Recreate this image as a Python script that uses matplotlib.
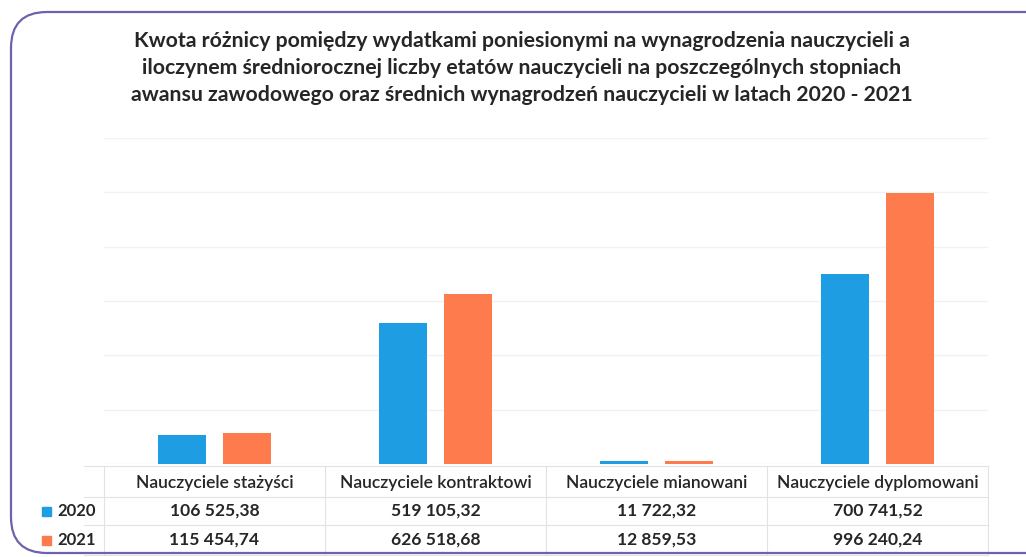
"""Teacher salary gap chart, 2020 vs 2021, with the data table under the bars."""

import matplotlib

matplotlib.use("Agg")
import matplotlib.pyplot as plt  # noqa: E402
from matplotlib.patches import FancyBboxPatch, Rectangle  # noqa: E402
from matplotlib.transforms import blended_transform_factory  # noqa: E402

plt.rcParams["font.family"] = ["Lato", "DejaVu Sans"]

CATEGORIES = [
    "Nauczyciele stażyści",
    "Nauczyciele kontraktowi",
    "Nauczyciele mianowani",
    "Nauczyciele dyplomowani",
]
YEARS = ["2020", "2021"]
VALUES_2020 = [106525.38, 519105.32, 11722.32, 700741.52]
VALUES_2021 = [115454.74, 626518.68, 12859.53, 996240.24]
LABELS_2020 = ["106 525,38", "519 105,32", "11 722,32", "700 741,52"]
LABELS_2021 = ["115 454,74", "626 518,68", "12 859,53", "996 240,24"]

TITLE = (
    "Kwota różnicy pomiędzy wydatkami poniesionymi na wynagrodzenia nauczycieli a\n"
    "iloczynem średniorocznej liczby etatów nauczycieli na poszczególnych stopniach\n"
    "awansu zawodowego oraz średnich wynagrodzeń nauczycieli w latach 2020 - 2021"
)

C_2020 = "#1e9de3"
C_2021 = "#fd7b4c"
C_GRID = "#f2f2f2"
C_TEXT = "#262626"
C_FRAME = "#6c62ad"
C_TABLE = "#e2e2e2"

W, H = 1026, 557
fig = plt.figure(figsize=(W / 100, H / 100), dpi=100)

# rounded frame, cut off on the right and bottom like the scan
frame = FancyBboxPatch(
    (11 / W, 1 - 553 / H), 1.2, 541 / H,
    boxstyle="round,pad=0,rounding_size=0.035",
    transform=fig.transFigure, fill=False, edgecolor=C_FRAME, linewidth=1.6,
    mutation_aspect=W / H,
)
fig.patches.append(frame)

fig.text(522 / W, 1 - 68 / H, TITLE, ha="center", va="center",
         fontsize=15.3, fontweight="bold", color=C_TEXT, linespacing=1.42)

x0, x1, ytop, ybot = 104, 988, 138, 464
ax = fig.add_axes([x0 / W, 1 - ybot / H, (x1 - x0) / W, (ybot - ytop) / H])
n = len(CATEGORIES)
xs = list(range(n))
w = 0.22
ax.bar([x - 0.147 for x in xs], VALUES_2020, w, color=C_2020, zorder=3)
ax.bar([x + 0.147 for x in xs], VALUES_2021, w, color=C_2021, zorder=3)
ax.set_xlim(-0.5, n - 0.5)
ax.set_ylim(0, 1_200_000)
ax.set_yticks(range(0, 1_200_001, 200_000))
ax.grid(axis="y", color=C_GRID, linewidth=1.0, zorder=0)
ax.tick_params(left=False, bottom=False, labelleft=False, labelbottom=False)
for s in ax.spines.values():
    s.set_visible(False)

# data table under the plot
tr = blended_transform_factory(ax.transData, fig.transFigure)
row_y = [483, 511, 540]
line_y = [466, 497, 525, 555]
for yl in line_y:
    ax.plot([-0.5 - 0.09, n - 0.5], [1 - yl / H] * 2, transform=tr,
            color=C_TABLE, linewidth=0.8, clip_on=False)
for xb in [i - 0.5 for i in range(n + 1)]:
    ax.plot([xb, xb], [1 - line_y[0] / H, 1 - line_y[-1] / H], transform=tr,
            color=C_TABLE, linewidth=0.8, clip_on=False)

for i, cat in enumerate(CATEGORIES):
    ax.text(i, 1 - row_y[0] / H, cat, transform=tr, ha="center", va="center",
            fontsize=12.6, fontweight="semibold", color=C_TEXT)
    ax.text(i, 1 - row_y[1] / H, LABELS_2020[i], transform=tr, ha="center",
            va="center", fontsize=12.6, fontweight="bold", color=C_TEXT)
    ax.text(i, 1 - row_y[2] / H, LABELS_2021[i], transform=tr, ha="center",
            va="center", fontsize=12.6, fontweight="bold", color=C_TEXT)

for year, col, yy in zip(YEARS, [C_2020, C_2021], row_y[1:]):
    fig.patches.append(Rectangle((42 / W, 1 - (yy + 4.5) / H), 9 / W, 9 / H,
                                 transform=fig.transFigure, color=col))
    fig.text(57 / W, 1 - yy / H, year, ha="left", va="center", fontsize=12,
             fontweight="bold", color=C_TEXT)

fig.savefig("out.png", dpi=100)
